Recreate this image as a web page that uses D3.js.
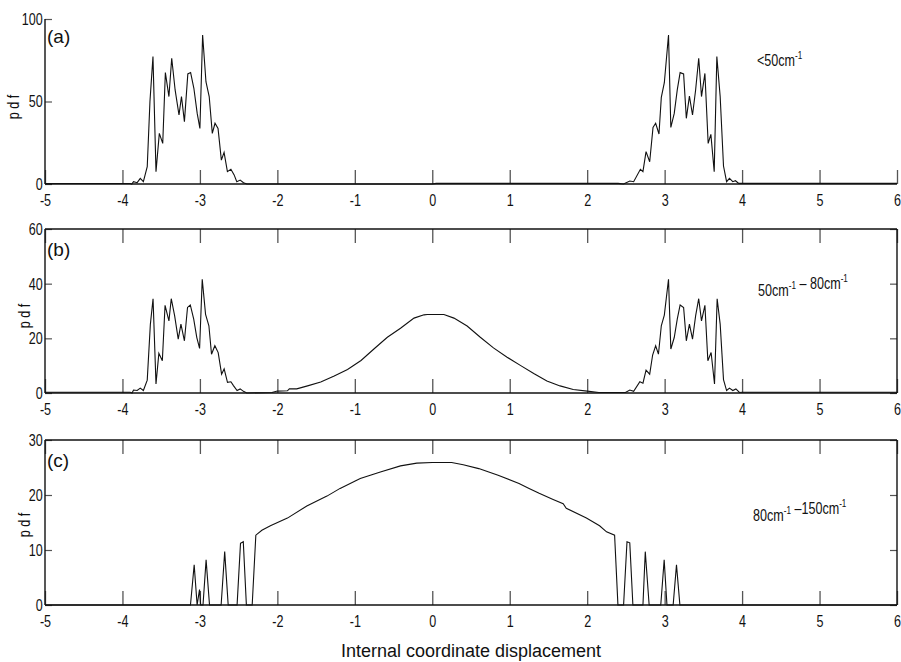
<!DOCTYPE html>
<html>
    <head>
        <title>pdf of internal coordinate displacement</title>
        <meta charset="utf-8"/>
        <script src="https://d3js.org/d3.v7.min.js"></script>
        <style>
            body { margin: 0; background: #fff; }
            text { fill: #111; font-family: "Liberation Sans", Arial, sans-serif; }
            .tick-label { font-size: 17px; }
        </style>
    </head>
    <body>
        <div id="output"></div>
        <script>
            //x ticks shared by all three panels
            var xTicks = [-5, -4, -3, -2, -1, 0, 1, 2, 3, 4, 5, 6];

            //panel (a): < 50 cm-1
            var pdfA = [
                [-5, 0.3], [-3.9, 0.3], [-3.88, 0], [-3.857, 1.4], [-3.81, 0.8], [-3.77, 3.4], [-3.73, 1.4],
                [-3.68, 10.5], [-3.645, 50], [-3.606, 77.2], [-3.567, 7.5], [-3.524, 30.7], [-3.48, 24.6],
                [-3.446, 67.5], [-3.40, 53], [-3.364, 76.2], [-3.32, 57], [-3.27, 41.8], [-3.238, 53],
                [-3.2, 37.8], [-3.156, 66.7], [-3.12, 67.5], [-3.078, 58], [-3.035, 42.8], [-3.0, 33.7],
                [-2.965, 90.3], [-2.922, 62], [-2.88, 53], [-2.84, 30.7], [-2.805, 36.8], [-2.766, 33.7],
                [-2.723, 14.5], [-2.688, 19.2], [-2.645, 7.5], [-2.6, 8.9], [-2.558, 5.5], [-2.524, 1.4],
                [-2.48, 2.4], [-2.437, 0.8], [-2.394, 0], [0, 0], [0.05, 0.4], [2.4, 0.4], [2.47, 0],
                [2.55, 1.8], [2.60, 1.4], [2.687, 8.9], [2.72, 7.5], [2.76, 19.6], [2.807, 13.5],
                [2.85, 34.3], [2.884, 36.8], [2.927, 30.3], [2.957, 52.5], [2.996, 61.4], [3.05, 90.3],
                [3.08, 34.3], [3.124, 42.8], [3.163, 57], [3.2, 67.5], [3.245, 66.7], [3.28, 39.8],
                [3.32, 53.3], [3.36, 41.8], [3.40, 57], [3.44, 76.2], [3.476, 53], [3.52, 67],
                [3.562, 24.6], [3.597, 30.1], [3.64, 7.5], [3.674, 77.2], [3.717, 53], [3.76, 10.9],
                [3.80, 1.4], [3.837, 3.4], [3.88, 1.4], [3.914, 2], [3.957, 0.4], [4.0, 0.4], [6, 0.4]
            ];

            //panel (b): 50 - 80 cm-1
            var pdfB = [
                [-5, 0.3], [-3.9, 0.3], [-3.876, 0], [-3.857, 1.1], [-3.81, 0.9], [-3.77, 1.8], [-3.73, 0.9],
                [-3.68, 4.7], [-3.64, 25], [-3.605, 34.5], [-3.567, 3.3], [-3.53, 14.5], [-3.485, 11.8],
                [-3.45, 32.1], [-3.40, 26.4], [-3.37, 34.5], [-3.326, 28.2], [-3.28, 19.7], [-3.245, 25.2],
                [-3.20, 19.1], [-3.16, 31.3], [-3.124, 32.2], [-3.08, 27], [-3.04, 20.3], [-3.004, 16.3],
                [-2.97, 41.6], [-2.927, 28.8], [-2.884, 24.6], [-2.85, 14.2], [-2.807, 17.3], [-2.764, 14.8],
                [-2.72, 6.9], [-2.687, 8.8], [-2.644, 3.9], [-2.6, 4.1], [-2.567, 2.7], [-2.52, 0.9],
                [-2.48, 1.5], [-2.438, 0.6], [-2.395, 0], [-2.07, 0.2], [-2.0, 0.7], [-1.87, 0.8],
                [-1.845, 1.5], [-1.75, 1.5], [-1.61, 2.6], [-1.44, 4], [-1.266, 6.2], [-1.094, 8.6],
                [-0.92, 11.9], [-0.75, 16.2], [-0.58, 20.4], [-0.41, 23.7], [-0.236, 27.4], [-0.107, 28.6],
                [-0.064, 28.7], [0.15, 28.7], [0.28, 27.4], [0.45, 24.5], [0.62, 20.4], [0.79, 16.5],
                [0.966, 13.1], [1.137, 10.1], [1.31, 7.1], [1.48, 4.4], [1.65, 2.6], [1.82, 1.3],
                [2.0, 0.7], [2.15, 0.2], [2.494, 0.2], [2.55, 1.1], [2.60, 0.6], [2.68, 4.1], [2.72, 3.6],
                [2.76, 8.4], [2.807, 6.9], [2.845, 13.9], [2.884, 17.3], [2.92, 14.2], [2.957, 24.6],
                [2.996, 28.5], [3.05, 41.6], [3.08, 16.1], [3.124, 20.3], [3.163, 27], [3.2, 32.2],
                [3.245, 31.3], [3.28, 19.1], [3.32, 25.2], [3.36, 19.7], [3.40, 28.2], [3.44, 34.5],
                [3.476, 26.4], [3.52, 32.1], [3.558, 11.8], [3.60, 14.8], [3.644, 3.3], [3.678, 34.5],
                [3.717, 25.2], [3.76, 4.9], [3.80, 0.9], [3.837, 1.8], [3.88, 0.9], [3.92, 1.5],
                [3.966, 0.2], [4.0, 0.3], [6, 0.3]
            ];

            //panel (c): 80 - 150 cm-1
            var pdfC = [
                [-5, 0], [-3.122, 0], [-3.074, 7.3], [-3.036, 0], [-3.005, 2.8], [-2.99, 0], [-2.96, 0],
                [-2.92, 8.2], [-2.876, 0], [-2.726, 0], [-2.68, 9.7], [-2.635, 0], [-2.52, 0],
                [-2.476, 11.2], [-2.44, 11.5], [-2.40, 0], [-2.325, 0], [-2.278, 12.7], [-2.2, 13.6],
                [-2.09, 14.4], [-1.87, 15.8], [-1.62, 18], [-1.36, 19.8], [-1.19, 21.2], [-0.93, 23],
                [-0.67, 24.2], [-0.41, 25.3], [-0.2, 25.8], [0.0, 25.9], [0.25, 25.9], [0.4, 25.5],
                [0.6, 24.8], [0.85, 23.6], [1.12, 22.1], [1.25, 21.2], [1.38, 20.3], [1.56, 19.2],
                [1.69, 18.4], [1.73, 17.6], [1.99, 15.8], [2.16, 14.4], [2.25, 13.3], [2.354, 12.7],
                [2.397, 0], [2.47, 0], [2.514, 11.5], [2.55, 11.3], [2.59, 0], [2.72, 0], [2.75, 9.7],
                [2.80, 0], [2.95, 0], [2.994, 8.2], [3.03, 0], [3.11, 0], [3.153, 7.3], [3.197, 0], [6, 0]
            ];

            //y ticks of each panel
            var yTicksA = [0, 50, 100];
            var yTicksB = [0, 20, 40, 60];
            var yTicksC = [0, 10, 20, 30];

            var panelNames = ["(a)", "(b)", "(c)"];

            //condensed look of the original lettering
            var squeeze = "scale(0.74,1)";

            var width = 901, height = 662;
            var svg = d3.select("#output")
                .append("svg")
                    .attr("width", width)
                    .attr("height", height);

            var x = d3.scaleLinear().domain([-5, 6]).range([45, 897]);

            //layout of the three panels (pixel positions of y = 0 and y = max)
            var panels = [
                {data: pdfA, ticks: yTicksA, top: 19, bottom: 184, box: false, note: [["<50cm", "-1"]], noteY: 66, noteX: 757, pdfX: 14, pdfY: 107},
                {data: pdfB, ticks: yTicksB, top: 229, bottom: 393, box: true, note: [["50cm", "-1"], [" \u2013 80cm", "-1"]], noteY: 296, noteX: 758, pdfX: 25, pdfY: 316},
                {data: pdfC, ticks: yTicksC, top: 440, bottom: 605, box: true, note: [["80cm", "-1"], [" \u2013150cm", "-1"]], noteY: 521, noteX: 753, pdfX: 25, pdfY: 525}
            ];

            panels.forEach(function(p, i) {
                var y = d3.scaleLinear()
                    .domain([0, d3.max(p.ticks)])
                    .range([p.bottom, p.top]);
                var g = svg.append("g");

                //bottom axis, ticks point inward
                var bottomAxis = d3.axisBottom(x).tickValues(xTicks).tickSize(-14).tickPadding(10)
                    .tickFormat(function(d) { return String(d); });
                var gb = g.append("g")
                    .attr("transform", "translate(0," + p.bottom + ")")
                    .call(bottomAxis);
                gb.selectAll(".tick line").attr("stroke", "#555").attr("stroke-width", 1.3);
                gb.selectAll(".tick text").attr("class", "tick-label").attr("transform", squeeze);

                //left axis
                var leftAxis = d3.axisLeft(y).tickValues(p.ticks).tickSize(-7).tickPadding(3);
                var gl = g.append("g")
                    .attr("transform", "translate(45,0)")
                    .call(leftAxis);
                gl.selectAll(".tick line").attr("stroke", "#555").attr("stroke-width", 1.2);
                gl.selectAll(".tick text").attr("class", "tick-label").attr("transform", squeeze);

                if (p.box) {
                    //top and right side of the frame
                    var gt = g.append("g")
                        .attr("transform", "translate(0," + p.top + ")")
                        .call(d3.axisTop(x).tickValues(xTicks).tickSize(-14).tickFormat(""));
                    gt.selectAll(".tick line").attr("stroke", "#555").attr("stroke-width", 1.3);
                    var gr = g.append("g")
                        .attr("transform", "translate(897,0)")
                        .call(d3.axisRight(y).tickValues(p.ticks).tickSize(-7).tickFormat(""));
                    gr.selectAll(".tick line").attr("stroke", "#555").attr("stroke-width", 1.2);
                }
                g.selectAll(".domain").remove();
                //axis lines as plain lines (no end caps)
                g.append("line").attr("x1", 45).attr("x2", 897).attr("y1", p.bottom).attr("y2", p.bottom)
                    .attr("stroke", "#111").attr("stroke-width", 1.4);
                g.append("line").attr("x1", 45).attr("x2", 45).attr("y1", p.top).attr("y2", p.bottom)
                    .attr("stroke", "#111").attr("stroke-width", 1.4);
                if (p.box) {
                    g.append("line").attr("x1", 45).attr("x2", 897).attr("y1", p.top).attr("y2", p.top)
                        .attr("stroke", "#111").attr("stroke-width", 1.4);
                    g.append("line").attr("x1", 897).attr("x2", 897).attr("y1", p.top).attr("y2", p.bottom)
                        .attr("stroke", "#111").attr("stroke-width", 1.4);
                }

                //the pdf curve
                var line = d3.line()
                    .x(function(d) { return x(d[0]); })
                    .y(function(d) { return y(d[1]); });
                g.append("path")
                    .datum(p.data)
                    .attr("d", line)
                    .attr("fill", "none")
                    .attr("stroke", "#111")
                    .attr("stroke-width", 1.1)
                    .attr("stroke-linejoin", "miter");

                //panel letter
                g.append("text")
                    .attr("x", 47)
                    .attr("y", p.top + (i == 0 ? 24 : 27))
                    .style("font-size", "19px")
                    .text(panelNames[i]);

                //y label
                g.append("text")
                    .attr("transform", "translate(" + (p.pdfX + 5) + "," + p.pdfY + ") rotate(-90) " + squeeze)
                    .attr("text-anchor", "middle")
                    .style("font-size", "17px")
                    .text("p d f");

                //frequency range note with superscripts
                var note = g.append("text")
                    .attr("transform", "translate(" + p.noteX + "," + p.noteY + ") " + squeeze)
                    .style("font-size", "17px");
                p.note.forEach(function(part) {
                    note.append("tspan").text(part[0]);
                    note.append("tspan").attr("dy", -7).style("font-size", "11px").text(part[1]);
                    note.append("tspan").attr("dy", 7).text("");
                });
            });

            //x axis title
            svg.append("text")
                .attr("x", 471)
                .attr("y", 657)
                .attr("text-anchor", "middle")
                .style("font-size", "18px")
                .text("Internal coordinate displacement");
        </script>
    </body>
</html>
